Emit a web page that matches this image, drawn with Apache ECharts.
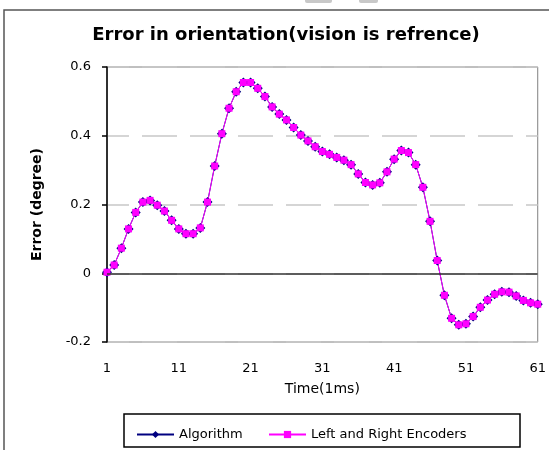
<!DOCTYPE html>
<html lang="en">
	<head>
		<meta charset="UTF-8" />
		<title>Error in orientation</title>
		<script src="https://cdn.jsdelivr.net/npm/echarts@6.0.0/dist/echarts.min.js"></script>
		<style>
			html, body { margin: 0; padding: 0; background: #fff; }
		</style>
	</head>
	<body>
		<div id="main" style="width: 549px; height: 450px"></div>
		<script type="text/javascript">
			// time steps (1 ms each)
			const times = [
				1, 2, 3, 4, 5, 6, 7, 8, 9, 10, 11, 12, 13, 14, 15, 16, 17, 18, 19, 20,
				21, 22, 23, 24, 25, 26, 27, 28, 29, 30, 31, 32, 33, 34, 35, 36, 37, 38, 39, 40,
				41, 42, 43, 44, 45, 46, 47, 48, 49, 50, 51, 52, 53, 54, 55, 56, 57, 58, 59, 60, 61,
			];
			// error in degrees
			const algorithm = [
				0.003, 0.024, 0.073, 0.129, 0.177, 0.207, 0.212, 0.198, 0.181, 0.154,
				0.129, 0.115, 0.115, 0.132, 0.207, 0.312, 0.406, 0.48, 0.528, 0.555,
				0.555, 0.538, 0.514, 0.484, 0.463, 0.446, 0.424, 0.402, 0.385, 0.368,
				0.354, 0.346, 0.337, 0.329, 0.316, 0.289, 0.264, 0.257, 0.263, 0.295,
				0.332, 0.357, 0.351, 0.316, 0.25, 0.151, 0.037, -0.064, -0.131, -0.15,
				-0.147, -0.126, -0.099, -0.078, -0.061, -0.054, -0.055, -0.066, -0.079, -0.086, -0.09,
			];
			const encoders = [
				0.003, 0.024, 0.073, 0.129, 0.177, 0.207, 0.212, 0.198, 0.181, 0.154,
				0.129, 0.115, 0.115, 0.132, 0.207, 0.312, 0.406, 0.48, 0.528, 0.555,
				0.555, 0.538, 0.514, 0.484, 0.463, 0.446, 0.424, 0.402, 0.385, 0.368,
				0.354, 0.346, 0.337, 0.329, 0.316, 0.289, 0.264, 0.257, 0.263, 0.295,
				0.332, 0.357, 0.351, 0.316, 0.25, 0.151, 0.037, -0.064, -0.131, -0.15,
				-0.147, -0.126, -0.099, -0.078, -0.061, -0.054, -0.055, -0.066, -0.079, -0.086, -0.09,
			];
			const yTicks = { min: -0.2, max: 0.6, interval: 0.2 };

			const font = "DejaVu Sans";

			let myChart = echarts.init(document.getElementById("main"), null, { renderer: "canvas" });

			let options = {
				animation: false,
				backgroundColor: "#fff",
				textStyle: { fontFamily: font, color: "#000" },
				title: {
					text: "Error in orientation(vision is refrence)",
					left: 281,
					top: 21,
					textAlign: "center",
					textStyle: { fontFamily: font, fontSize: 18, fontWeight: "bold", color: "#000" },
				},
				legend: [
					{
						data: ["Algorithm"],
						left: 131,
						top: 423,
						itemWidth: 37,
						itemHeight: 9,
						itemGap: 5,
						textStyle: { fontFamily: font, fontSize: 13, color: "#000" },
					},
					{
						data: ["Left and Right Encoders"],
						left: 263,
						top: 423,
						itemWidth: 37,
						itemHeight: 9,
						textStyle: { fontFamily: font, fontSize: 13, color: "#000" },
					},
				],
				grid: {
					left: 107,
					top: 67,
					width: 433,
					height: 275,
					show: true,
					borderColor: "#808080",
					borderWidth: 1,
					containLabel: false,
				},
				xAxis: {
					type: "category",
					data: times,
					boundaryGap: false,
					name: "Time(1ms)",
					nameLocation: "middle",
					nameGap: 40,
					nameTextStyle: { fontFamily: font, fontSize: 14, color: "#000" },
					axisLine: { show: false },
					axisTick: { show: false },
					axisLabel: { interval: 9, margin: 20, fontSize: 13, color: "#000", fontFamily: font },
					splitLine: { show: false },
				},
				yAxis: {
					type: "value",
					min: yTicks.min,
					max: yTicks.max,
					interval: yTicks.interval,
					name: "Error (degree)",
					nameLocation: "middle",
					nameGap: 63,
					nameTextStyle: { fontFamily: font, fontSize: 14, fontWeight: "bold", color: "#000" },
					axisLine: { show: true, lineStyle: { color: "#000", width: 1.5 } },
					axisTick: { show: true, inside: false, length: 5, lineStyle: { color: "#000", width: 1.5 } },
					axisLabel: { margin: 16, fontSize: 13, color: "#000", fontFamily: font },
					splitLine: {
						show: true,
						lineStyle: { color: "#c8c8c8", width: 1.5, type: [35, 13], dashOffset: 13 },
					},
				},
				series: [
					{
						name: "Algorithm",
						type: "line",
						data: algorithm,
						symbol: "diamond",
						symbolSize: 10,
						showAllSymbol: true,
						itemStyle: { color: "#000080" },
						lineStyle: { color: "#000080", width: 1 },
						markLine: {
							silent: true,
							symbol: "none",
							label: { show: false },
							lineStyle: { color: "#333", width: 1.5, type: "solid" },
							data: [{ yAxis: 0 }],
						},
					},
					{
						name: "Left and Right Encoders",
						type: "line",
						data: encoders,
						symbol: "rect",
						symbolSize: 7,
						showAllSymbol: true,
						itemStyle: { color: "#ff00ff" },
						lineStyle: { color: "#ff00ff", width: 1 },
					},
				],
				graphic: [
					{
						type: "rect",
						shape: { x: 4, y: 10, width: 600, height: 500 },
						style: { fill: null, stroke: "#555", lineWidth: 1.5 },
						silent: true,
					},
					{
						type: "rect",
						shape: { x: 124, y: 414, width: 396, height: 33 },
						style: { fill: null, stroke: "#000", lineWidth: 1.5 },
						silent: true,
					},
					{
						type: "rect",
						shape: { x: 305, y: -3, width: 27, height: 6, r: 2 },
						style: { fill: "#c8c8c8" },
						silent: true,
					},
					{
						type: "rect",
						shape: { x: 359, y: -3, width: 19, height: 6, r: 2 },
						style: { fill: "#c8c8c8" },
						silent: true,
					},
				],
			};

			myChart.setOption(options);
		</script>
	</body>
</html>
